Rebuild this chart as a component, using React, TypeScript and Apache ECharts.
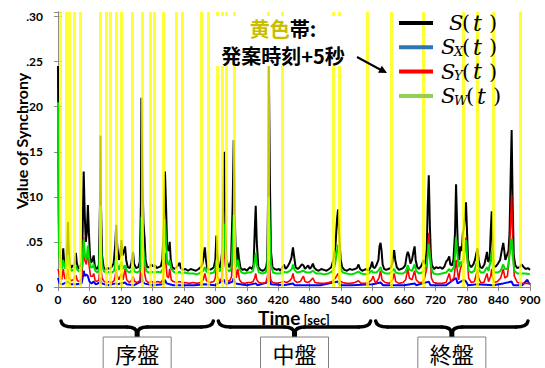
import React, { useEffect, useRef } from "react";
import * as echarts from "echarts";

// ---------- data ----------
const xTickStep = 60;
const xMax = 900;
const yMax = 0.305;
const yTickStep = 0.05;

// times (sec) of the yellow bands: "発案時刻+5秒"
const ideaTimes = [4, 15, 21, 31, 42, 81, 92, 99, 111, 121, 142, 160, 175, 183, 201, 226, 237, 274, 287, 303, 313, 320, 336, 401, 427, 525, 536, 589, 636, 697, 773, 799, 830, 881];

const phaseLabels = ["序盤", "中盤", "終盤"];
const phaseBounds = [0, 300, 600, 900];

// S(t) black
const sTotal = [
[0,0.245],[1,0.12],[2,0.06],[4,0.028],[6,0.021],[8,0.025],[10,0.043],[12,0.026],[14,0.022],[16,0.026],[18,0.05],[19,0.072],[20,0.05],[22,0.027],[25,0.021],[28,0.024],[31,0.022],[34,0.038],[36,0.026],[39,0.02],[42,0.023],[45,0.027],[47,0.06],[49,0.128],[51,0.08],[53,0.05],[55,0.06],[57,0.091],[59,0.06],[61,0.035],[63,0.027],[66,0.03],[68,0.035],[70,0.024],[73,0.02],[76,0.021],[78,0.025],[80,0.09],[81,0.168],[82,0.09],[84,0.035],[87,0.022],[91,0.019],[95,0.021],[99,0.02],[103,0.023],[106,0.026],[109,0.045],[111,0.069],[113,0.045],[116,0.03],[119,0.035],[121,0.052],[123,0.035],[126,0.04],[128,0.045],[130,0.03],[133,0.022],[137,0.021],[140,0.027],[143,0.039],[145,0.026],[149,0.021],[153,0.022],[156,0.028],[158,0.09],[159,0.21],[161,0.12],[163,0.071],[165,0.055],[167,0.03],[170,0.022],[174,0.022],[178,0.025],[181,0.023],[185,0.024],[188,0.021],[192,0.022],[196,0.023],[199,0.03],[202,0.07],[204,0.128],[206,0.09],[208,0.045],[211,0.04],[213,0.05],[215,0.03],[218,0.022],[222,0.02],[226,0.022],[229,0.024],[232,0.027],[234,0.021],[238,0.019],[243,0.02],[248,0.018],[253,0.02],[258,0.019],[263,0.018],[268,0.02],[272,0.022],[275,0.025],[278,0.035],[280,0.044],[282,0.03],[285,0.02],[289,0.019],[293,0.02],[297,0.022],[300,0.03],[302,0.057],[304,0.035],[307,0.022],[310,0.022],[313,0.04],[315,0.09],[317,0.15],[319,0.07],[321,0.03],[324,0.025],[327,0.022],[330,0.03],[333,0.09],[335,0.163],[337,0.08],[339,0.035],[341,0.03],[343,0.044],[345,0.032],[348,0.021],[352,0.019],[356,0.02],[360,0.018],[363,0.02],[366,0.022],[370,0.02],[373,0.025],[375,0.06],[377,0.09],[379,0.05],[382,0.022],[386,0.019],[390,0.018],[394,0.019],[397,0.022],[399,0.03],[401,0.12],[402,0.247],[404,0.12],[406,0.04],[409,0.022],[413,0.02],[417,0.019],[421,0.02],[424,0.018],[428,0.022],[431,0.025],[434,0.02],[437,0.022],[441,0.026],[445,0.032],[448,0.044],[450,0.035],[453,0.022],[457,0.02],[461,0.022],[465,0.025],[468,0.024],[471,0.02],[474,0.022],[477,0.024],[480,0.02],[483,0.022],[486,0.026],[489,0.021],[493,0.019],[497,0.018],[502,0.02],[507,0.019],[512,0.018],[517,0.02],[521,0.022],[525,0.03],[529,0.045],[532,0.075],[534,0.086],[536,0.06],[539,0.03],[542,0.022],[546,0.019],[551,0.018],[556,0.02],[561,0.019],[566,0.02],[570,0.021],[573,0.025],[576,0.02],[580,0.018],[584,0.019],[588,0.02],[592,0.018],[596,0.022],[599,0.028],[601,0.022],[604,0.021],[607,0.024],[611,0.03],[613,0.045],[615,0.049],[617,0.04],[619,0.025],[622,0.02],[626,0.019],[630,0.02],[634,0.021],[637,0.025],[639,0.035],[641,0.041],[643,0.03],[646,0.022],[650,0.019],[654,0.02],[658,0.021],[662,0.024],[665,0.035],[667,0.039],[669,0.036],[672,0.026],[675,0.03],[678,0.04],[680,0.045],[682,0.03],[685,0.022],[688,0.02],[691,0.022],[694,0.025],[697,0.03],[700,0.025],[703,0.04],[705,0.09],[707,0.124],[709,0.07],[711,0.035],[713,0.024],[717,0.02],[721,0.022],[725,0.021],[729,0.022],[733,0.02],[737,0.023],[740,0.028],[743,0.03],[746,0.034],[748,0.025],[751,0.024],[754,0.03],[757,0.06],[759,0.114],[761,0.07],[763,0.035],[765,0.03],[767,0.045],[770,0.04],[772,0.06],[774,0.065],[776,0.08],[778,0.094],[780,0.06],[782,0.03],[785,0.024],[788,0.022],[792,0.025],[795,0.03],[798,0.038],[800,0.043],[802,0.03],[805,0.022],[809,0.021],[813,0.025],[816,0.033],[818,0.039],[820,0.028],[823,0.03],[825,0.06],[827,0.084],[829,0.04],[831,0.022],[835,0.023],[839,0.026],[843,0.03],[846,0.04],[849,0.049],[851,0.04],[853,0.03],[856,0.035],[859,0.04],[861,0.06],[863,0.12],[865,0.174],[867,0.09],[869,0.035],[872,0.024],[876,0.021],[880,0.022],[884,0.025],[888,0.022],[892,0.02],[896,0.021],[900,0.019]
];

// S_W(t) green
const sW = [
[0,0.205],[1,0.08],[2,0.04],[4,0.022],[7,0.02],[10,0.03],[13,0.021],[16,0.02],[19,0.035],[21,0.024],[25,0.018],[29,0.019],[34,0.024],[37,0.019],[41,0.017],[45,0.02],[47,0.03],[49,0.053],[51,0.035],[54,0.03],[57,0.046],[59,0.033],[62,0.022],[66,0.022],[68,0.025],[71,0.018],[75,0.016],[78,0.019],[80,0.05],[81,0.09],[82,0.05],[84,0.024],[88,0.017],[93,0.016],[98,0.017],[103,0.016],[107,0.018],[109,0.025],[111,0.035],[113,0.025],[116,0.019],[121,0.028],[124,0.02],[128,0.024],[131,0.018],[136,0.016],[140,0.018],[143,0.022],[146,0.017],[151,0.016],[156,0.018],[158,0.04],[159,0.078],[161,0.06],[163,0.04],[165,0.03],[168,0.018],[172,0.016],[178,0.017],[184,0.016],[190,0.017],[196,0.016],[200,0.02],[202,0.04],[204,0.075],[206,0.05],[208,0.028],[211,0.024],[213,0.03],[216,0.02],[220,0.017],[226,0.015],[232,0.017],[236,0.015],[242,0.016],[250,0.015],[258,0.015],[265,0.014],[272,0.016],[277,0.018],[280,0.022],[283,0.017],[290,0.015],[297,0.016],[300,0.02],[302,0.03],[304,0.022],[308,0.017],[312,0.022],[315,0.045],[317,0.07],[319,0.04],[322,0.02],[327,0.017],[331,0.022],[333,0.05],[335,0.08],[337,0.045],[340,0.022],[343,0.03],[346,0.02],[350,0.016],[356,0.015],[362,0.016],[368,0.016],[372,0.018],[375,0.028],[377,0.038],[379,0.025],[383,0.016],[390,0.015],[396,0.016],[399,0.022],[401,0.06],[402,0.1],[404,0.06],[406,0.025],[410,0.016],[416,0.015],[424,0.015],[430,0.017],[436,0.016],[442,0.018],[446,0.02],[448,0.025],[451,0.019],[456,0.016],[462,0.017],[468,0.018],[474,0.016],[480,0.016],[486,0.018],[492,0.015],[500,0.015],[508,0.014],[516,0.015],[522,0.017],[526,0.02],[529,0.028],[532,0.04],[534,0.047],[536,0.035],[539,0.02],[543,0.016],[550,0.015],[558,0.014],[566,0.015],[573,0.017],[578,0.015],[585,0.014],[592,0.015],[598,0.018],[601,0.016],[607,0.016],[612,0.019],[615,0.022],[618,0.017],[624,0.015],[632,0.015],[638,0.018],[641,0.02],[644,0.016],[650,0.015],[658,0.015],[663,0.017],[667,0.024],[670,0.019],[675,0.018],[680,0.025],[683,0.018],[688,0.015],[694,0.016],[698,0.018],[703,0.025],[705,0.035],[707,0.048],[709,0.035],[712,0.02],[716,0.015],[724,0.014],[732,0.015],[740,0.016],[746,0.02],[749,0.017],[755,0.022],[757,0.035],[759,0.055],[761,0.04],[764,0.022],[767,0.028],[770,0.025],[774,0.035],[776,0.045],[778,0.052],[780,0.035],[783,0.018],[788,0.016],[794,0.018],[798,0.026],[800,0.03],[802,0.02],[806,0.016],[812,0.016],[818,0.022],[821,0.018],[825,0.03],[827,0.04],[829,0.025],[832,0.016],[838,0.016],[844,0.018],[849,0.025],[852,0.02],[857,0.02],[860,0.03],[863,0.045],[865,0.054],[867,0.035],[870,0.018],[876,0.015],[884,0.015],[892,0.015],[900,0.014]
];

// S_Y(t) red
const sY = [
[0,0.02],[2,0.015],[4,0.01],[7,0.008],[10,0.02],[13,0.009],[16,0.01],[19,0.02],[21,0.01],[25,0.007],[29,0.008],[34,0.013],[37,0.007],[41,0.006],[45,0.01],[47,0.025],[49,0.055],[51,0.03],[54,0.025],[57,0.04],[59,0.025],[62,0.012],[66,0.012],[68,0.015],[71,0.007],[75,0.006],[78,0.008],[80,0.025],[81,0.04],[82,0.02],[84,0.01],[88,0.006],[93,0.005],[98,0.006],[103,0.005],[107,0.007],[109,0.012],[111,0.02],[113,0.012],[116,0.008],[121,0.015],[124,0.008],[128,0.02],[131,0.008],[136,0.005],[140,0.007],[143,0.012],[146,0.006],[151,0.005],[156,0.007],[158,0.025],[159,0.05],[161,0.035],[163,0.03],[165,0.015],[168,0.007],[172,0.005],[178,0.006],[184,0.005],[190,0.006],[196,0.005],[200,0.008],[202,0.02],[204,0.038],[206,0.025],[208,0.012],[211,0.01],[213,0.02],[216,0.008],[220,0.006],[226,0.005],[232,0.006],[236,0.005],[242,0.005],[250,0.004],[258,0.005],[265,0.004],[272,0.005],[277,0.008],[280,0.015],[283,0.007],[290,0.005],[297,0.006],[300,0.01],[302,0.025],[304,0.012],[308,0.006],[312,0.01],[315,0.03],[317,0.05],[319,0.025],[322,0.008],[327,0.006],[331,0.012],[333,0.04],[335,0.065],[337,0.03],[340,0.01],[343,0.02],[346,0.008],[350,0.005],[356,0.004],[362,0.005],[368,0.005],[372,0.006],[375,0.01],[377,0.015],[379,0.008],[383,0.005],[390,0.004],[396,0.005],[399,0.01],[401,0.02],[402,0.03],[404,0.015],[406,0.007],[410,0.005],[416,0.004],[424,0.005],[430,0.006],[436,0.005],[442,0.007],[446,0.01],[448,0.015],[451,0.007],[456,0.005],[462,0.006],[468,0.012],[471,0.006],[476,0.005],[480,0.006],[486,0.01],[490,0.005],[500,0.004],[508,0.004],[516,0.005],[522,0.006],[526,0.008],[529,0.01],[532,0.013],[534,0.015],[536,0.01],[539,0.006],[543,0.005],[550,0.004],[558,0.004],[566,0.005],[573,0.007],[578,0.004],[585,0.004],[592,0.005],[598,0.008],[601,0.012],[604,0.006],[607,0.005],[612,0.01],[615,0.018],[618,0.008],[624,0.005],[632,0.004],[638,0.008],[641,0.015],[644,0.006],[650,0.004],[658,0.005],[663,0.008],[667,0.02],[670,0.01],[675,0.008],[680,0.018],[683,0.008],[688,0.005],[694,0.005],[698,0.008],[703,0.02],[705,0.04],[707,0.06],[709,0.04],[712,0.01],[716,0.005],[724,0.004],[732,0.004],[740,0.005],[746,0.015],[749,0.006],[755,0.01],[757,0.02],[759,0.03],[761,0.02],[764,0.008],[767,0.02],[770,0.025],[774,0.03],[776,0.045],[778,0.055],[780,0.035],[783,0.01],[788,0.005],[794,0.006],[798,0.015],[800,0.02],[802,0.01],[806,0.005],[812,0.005],[818,0.015],[821,0.006],[825,0.012],[827,0.02],[829,0.01],[832,0.005],[838,0.006],[844,0.01],[849,0.02],[852,0.01],[857,0.012],[860,0.03],[863,0.07],[865,0.102],[867,0.05],[870,0.012],[876,0.005],[884,0.004],[892,0.004],[900,0.004]
];

// S_X(t) blue
const sX = [
[0,0.01],[3,0.004],[8,0.003],[19,0.006],[24,0.003],[35,0.003],[45,0.004],[47,0.01],[49,0.018],[51,0.012],[54,0.014],[57,0.012],[60,0.006],[64,0.004],[68,0.006],[72,0.003],[80,0.005],[81,0.01],[83,0.004],[95,0.002],[110,0.004],[113,0.003],[128,0.005],[131,0.003],[145,0.002],[158,0.006],[159,0.015],[161,0.008],[164,0.004],[180,0.002],[200,0.003],[204,0.008],[207,0.004],[220,0.002],[260,0.002],[280,0.003],[300,0.002],[317,0.008],[320,0.003],[333,0.006],[335,0.01],[338,0.004],[360,0.002],[377,0.004],[380,0.002],[399,0.005],[401,0.015],[402,0.03],[404,0.01],[406,0.003],[430,0.002],[448,0.004],[451,0.002],[500,0.002],[534,0.006],[537,0.002],[560,0.002],[600,0.003],[615,0.005],[620,0.002],[660,0.002],[680,0.004],[683,0.002],[707,0.006],[710,0.002],[740,0.002],[759,0.01],[762,0.004],[774,0.008],[778,0.006],[782,0.002],[800,0.003],[830,0.002],[849,0.004],[865,0.006],[868,0.002],[885,0.002],[895,0.008],[898,0.004],[900,0.003]
];

const seriesNames = ["S(t)", "S_X(t)", "S_Y(t)", "S_W(t)"];
const legendSubs = ["", "X", "Y", "W"];
const plotColors = ["#000000", "#0000ff", "#ff0000", "#00dd00"];
const legendColors = ["#000000", "#2e75b6", "#ff0000", "#92d050"];

const AXIS_FONT = "Lato";
const CJK_FONT = "Noto Sans CJK JP";
const MATH_FONT = "DejaVu Serif";

export default function App() {
  const ref = useRef<HTMLDivElement>(null);

  useEffect(() => {
    if (!ref.current) return;
    const chart = echarts.init(ref.current, undefined, { renderer: "svg" });
    const boxColor = "#8a8a8a";
    const dataSeries = [sTotal, sX, sY, sW];
    const widths = [2, 2, 1.6, 2];

    const option: any = {
      animation: false,
      backgroundColor: "#ffffff",
      grid: { left: 58, right: 15, top: 12, bottom: 81, containLabel: false },
      xAxis: [
        {
          type: "value", min: 0, max: xMax, interval: xTickStep, position: "bottom",
          axisLine: { show: true, lineStyle: { color: boxColor, width: 1 } },
          axisTick: { show: true, inside: true, length: 4, lineStyle: { color: boxColor } },
          splitLine: { show: false },
          axisLabel: { color: "#000", fontWeight: "bold", fontSize: 12, fontFamily: AXIS_FONT, margin: 6 },
        },
        {
          type: "value", min: 0, max: xMax, interval: xTickStep, position: "top",
          axisLine: { show: true, lineStyle: { color: boxColor, width: 1 } },
          axisTick: { show: true, inside: true, length: 4, lineStyle: { color: boxColor } },
          splitLine: { show: false },
          axisLabel: { show: false },
        },
      ],
      yAxis: [
        {
          type: "value", min: 0, max: yMax, interval: yTickStep, position: "left",
          axisLine: { show: true, lineStyle: { color: boxColor, width: 1 } },
          axisTick: { show: true, inside: true, length: 4, lineStyle: { color: boxColor } },
          splitLine: { show: false },
          axisLabel: {
            color: "#000", fontWeight: "bold", fontSize: 12, fontFamily: AXIS_FONT, margin: 15,
            formatter: (v: number) => {
              const k = Math.round(v * 100);
              if (Math.abs(v * 100 - k) > 1e-6 || k % 5 !== 0) return "";
              return k === 0 ? "0" : "." + String(k).padStart(2, "0");
            },
          },
        },
        {
          type: "value", min: 0, max: yMax, interval: yTickStep, position: "right",
          axisLine: { show: true, lineStyle: { color: boxColor, width: 1 } },
          axisTick: { show: true, inside: true, length: 4, lineStyle: { color: boxColor } },
          splitLine: { show: false },
          axisLabel: { show: false },
        },
      ],
      series: [
        ...seriesNames.map((n, i) => ({
          name: n,
          type: "line",
          data: dataSeries[i],
          showSymbol: false,
          symbol: "none",
          z: 2,
          lineStyle: { color: plotColors[i], width: widths[i] },
          itemStyle: { color: plotColors[i] },
        })),
        {
          name: "ideas",
          type: "line",
          data: [],
          z: 3,
          silent: true,
          markLine: {
            silent: true,
            symbol: "none",
            label: { show: false },
            emphasis: { disabled: true },
            lineStyle: { color: "#ffff00", width: 3, type: "solid", opacity: 0.78 },
            data: ideaTimes.map((t) => ({ xAxis: t })),
          },
        },
      ],
    };
    chart.setOption(option);

    const px = (t: number) => chart.convertToPixel({ xAxisIndex: 0 }, t) as number;
    const graphics: any[] = [];
    const txt = (x: number, y: number, text: string, font: string) => ({
      type: "text", z: 120, x, y,
      style: { text, font, fill: "#000", align: "left", verticalAlign: "middle", textAlign: "left", textVerticalAlign: "middle" },
    });

    // legend (drawn as graphics)
    const rowY = [23, 47.3, 71.6, 96];
    for (let i = 0; i < seriesNames.length; i++) {
      const y = rowY[i];
      graphics.push({ type: "rect", z: 110, shape: { x: 399, y: y - 2, width: 34, height: 4 }, style: { fill: legendColors[i] } });
      const sub = legendSubs[i];
      const sx = sub ? 441 : 449;
      const shift = sub === "W" ? 4 : 0;
      graphics.push(txt(sx, y, "S", `italic 21px "${MATH_FONT}"`));
      if (sub) graphics.push(txt(454, y + 4, sub, `italic 13px "${MATH_FONT}"`));
      graphics.push(txt(462 + shift, y, "(", `21px "${MATH_FONT}"`));
      graphics.push(txt(473 + shift, y, "t", `italic 22px "${MATH_FONT}"`));
      graphics.push(txt(489 + shift, y, ")", `21px "${MATH_FONT}"`));
    }

    // x-axis name
    graphics.push({
      type: "text", z: 10, x: (px(0) + px(xMax)) / 2, y: 317,
      style: {
        text: "{a|Time} {b|[sec]}", align: "center", verticalAlign: "middle", textAlign: "center", textVerticalAlign: "middle",
        rich: {
          a: { fontSize: 19, fontWeight: "bold", fontFamily: AXIS_FONT, fill: "#000", color: "#000", lineHeight: 18 },
          b: { fontSize: 13, fontWeight: "bold", fontFamily: AXIS_FONT, fill: "#000", color: "#000", verticalAlign: "bottom" },
        },
      },
    });

    // annotation (white background over yellow bands)
    graphics.push({ type: "rect", z: 100, shape: { x: 212, y: 16, width: 140, height: 50 }, style: { fill: "#ffffff" } });
    graphics.push({
      type: "text", z: 101, x: 283, y: 28,
      style: {
        text: "{y|黄色}{k|帯:}", align: "center", verticalAlign: "middle", textAlign: "center", textVerticalAlign: "middle",
        rich: {
          y: { fontFamily: CJK_FONT, fontWeight: "bold", fontSize: 20, fill: "#c8be00", color: "#c8be00" },
          k: { fontFamily: CJK_FONT, fontWeight: "bold", fontSize: 20, fill: "#000", color: "#000" },
        },
      },
    });
    graphics.push({
      type: "text", z: 101, x: 283, y: 55,
      style: { text: "発案時刻+5秒", font: `bold 20px "${CJK_FONT}"`, fill: "#000", align: "center", verticalAlign: "middle", textAlign: "center", textVerticalAlign: "middle" },
    });
    // arrow
    graphics.push({ type: "line", z: 101, shape: { x1: 357, y1: 57, x2: 381, y2: 70 }, style: { stroke: "#000", lineWidth: 2 } });
    graphics.push({ type: "polygon", z: 101, shape: { points: [[387, 73], [378, 72.7], [381.8, 65.7]] }, style: { fill: "#000" } });

    // y-axis name
    graphics.push({
      type: "text", z: 10, x: 21, y: 141, rotation: Math.PI / 2,
      style: { text: "Value of Synchrony", font: `bold 16px "${AXIS_FONT}"`, fill: "#000", align: "center", verticalAlign: "middle", textAlign: "center", textVerticalAlign: "middle" },
    });

    // braces + phase boxes
    const braceStyle = { stroke: "#000", lineWidth: 3.5, fill: null, lineCap: "round" };
    for (let i = 0; i < phaseLabels.length; i++) {
      const xL = px(phaseBounds[i]) + 3;
      const xR = px(phaseBounds[i + 1]) - 2;
      const xc = (xL + xR) / 2;
      const yEnd = 321, yH = 327, yTip = 333;
      graphics.push({ type: "bezierCurve", shape: { x1: xL, y1: yEnd, x2: xL + 12, y2: yH, cpx1: xL + 1, cpy1: yH }, style: braceStyle });
      graphics.push({ type: "line", shape: { x1: xL + 12, y1: yH, x2: xc - 10, y2: yH }, style: braceStyle });
      graphics.push({ type: "bezierCurve", shape: { x1: xc - 10, y1: yH, x2: xc, y2: yTip, cpx1: xc - 1, cpy1: yH }, style: braceStyle });
      graphics.push({ type: "bezierCurve", shape: { x1: xc + 10, y1: yH, x2: xc, y2: yTip, cpx1: xc + 1, cpy1: yH }, style: braceStyle });
      graphics.push({ type: "line", shape: { x1: xc + 10, y1: yH, x2: xR - 12, y2: yH }, style: braceStyle });
      graphics.push({ type: "bezierCurve", shape: { x1: xR - 12, y1: yH, x2: xR, y2: yEnd, cpx1: xR - 1, cpy1: yH }, style: braceStyle });
      graphics.push({ type: "line", shape: { x1: xc, y1: 330, x2: xc, y2: 337 }, style: { stroke: "#000", lineWidth: 5 } });
      graphics.push({ type: "rect", shape: { x: xc - 34, y: 337, width: 68, height: 40 }, style: { fill: "#fff", stroke: "#808080", lineWidth: 1 } });
      graphics.push({
        type: "text", x: xc, y: 353,
        style: { text: phaseLabels[i], font: `22px "${CJK_FONT}"`, fill: "#000", align: "center", verticalAlign: "middle", textAlign: "center", textVerticalAlign: "middle" },
      });
    }
    chart.setOption({ graphic: graphics });

    return () => chart.dispose();
  }, []);

  return <div ref={ref} style={{ position: "fixed", left: 0, top: 0, width: 545, height: 368 }} />;
}
